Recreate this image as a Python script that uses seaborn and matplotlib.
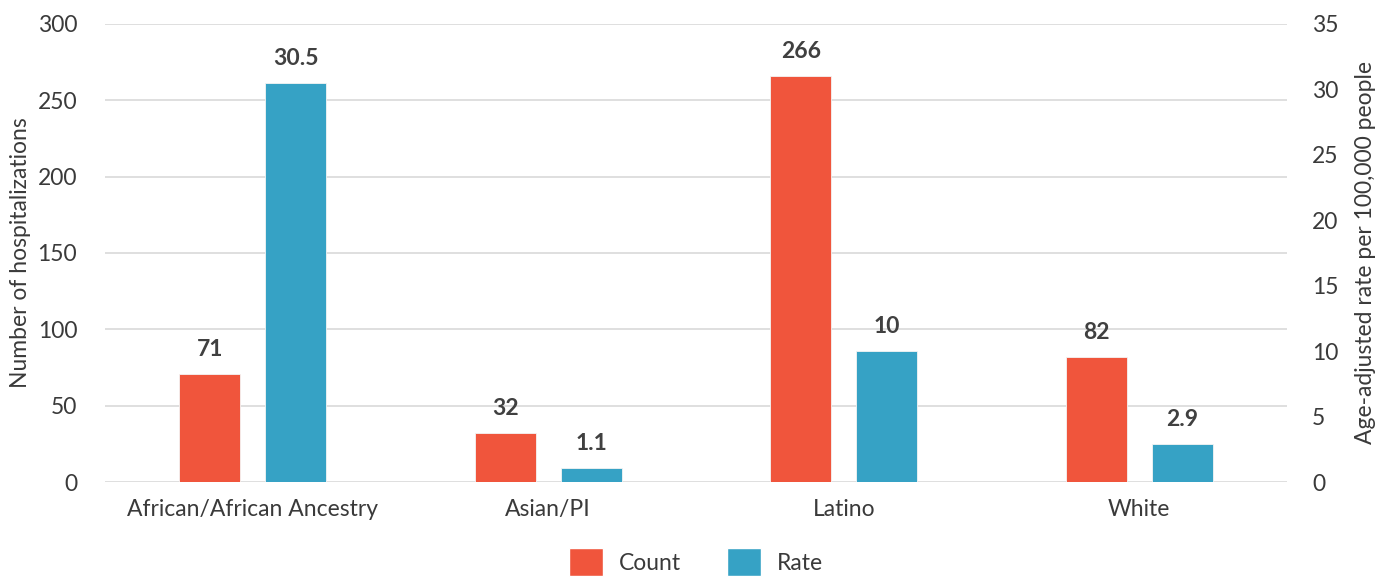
import pandas as pd
import numpy as np
import matplotlib
matplotlib.use("Agg")
import matplotlib.pyplot as plt
import seaborn as sns
from matplotlib.patches import Patch

# Data
groups = ["African/African Ancestry", "Asian/PI", "Latino", "White"]
counts = [71, 32, 266, 82]
rates = [30.5, 1.1, 10, 2.9]
count_labels = ["71", "32", "266", "82"]
rate_labels = ["30.5", "1.1", "10", "2.9"]

red = "#F0553C"
blue = "#36A2C5"
text_col = "#3a3a3a"

sns.set_theme(style="white")
plt.rcParams["font.family"] = ["Lato", "DejaVu Sans"]

# one table per axis; hue_order keeps both dodge slots
df_count = pd.DataFrame({"group": groups, "series": ["Count"] * 4, "value": counts})
df_rate = pd.DataFrame({"group": groups, "series": ["Rate"] * 4, "value": rates})

fig = plt.figure(figsize=(13.92, 5.82), dpi=100)
ax = fig.add_axes([0.0754, 0.1718, 0.8492, 0.787])
ax2 = ax.twinx()

pal = {"Count": red, "Rate": blue}
sns.barplot(data=df_count, x="group", y="value", hue="series", hue_order=["Count", "Rate"],
            order=groups, palette=pal, width=0.58, gap=0.29, dodge=True, ax=ax, legend=False,
            edgecolor="#f4f4f4", linewidth=0.6, saturation=1)
sns.barplot(data=df_rate, x="group", y="value", hue="series", hue_order=["Count", "Rate"],
            order=groups, palette=pal, width=0.58, gap=0.29, dodge=True, ax=ax2, legend=False,
            edgecolor="#f4f4f4", linewidth=0.6, saturation=1)

ax.set_ylim(0, 300)
ax2.set_ylim(0, 35)
ax.set_yticks(range(0, 301, 50))
ax2.set_yticks(range(0, 36, 5))
ax.set_xlim(-0.5, 3.5)

# value labels
for c in ax.containers:
    if len(c) == 4:
        ax.bar_label(c, labels=count_labels, padding=10, fontsize=16.5,
                     fontweight="bold", color="#404040")
for c in ax2.containers:
    if len(c) == 4:
        ax2.bar_label(c, labels=rate_labels, padding=10, fontsize=16.5,
                      fontweight="bold", color="#404040")

ax.yaxis.grid(True, color="#d9d9d9", linewidth=1.2)
ax.set_axisbelow(True)

for a in (ax, ax2):
    for s in a.spines.values():
        s.set_visible(False)
    a.tick_params(axis="both", length=0, labelsize=16.5, colors=text_col)

ax.tick_params(axis="x", pad=12)
ax.tick_params(axis="y", pad=20)
ax2.tick_params(axis="y", pad=18)
ax.set_xlabel("")
ax.set_ylabel("Number of hospitalizations", fontsize=16.5, color=text_col, labelpad=5)
ax2.set_ylabel("Age-adjusted rate per 100,000 people", fontsize=16.5, color=text_col, labelpad=12)

handles = [Patch(facecolor=red, label="Count"), Patch(facecolor=blue, label="Rate")]
fig.legend(handles=handles, loc="lower center", bbox_to_anchor=(0.5, -0.025), ncol=2,
           frameon=False, fontsize=16.5, handlelength=1.5, handleheight=1.5,
           columnspacing=2.0, handletextpad=0.7, labelcolor=text_col)

fig.savefig("out.png", dpi=100)
